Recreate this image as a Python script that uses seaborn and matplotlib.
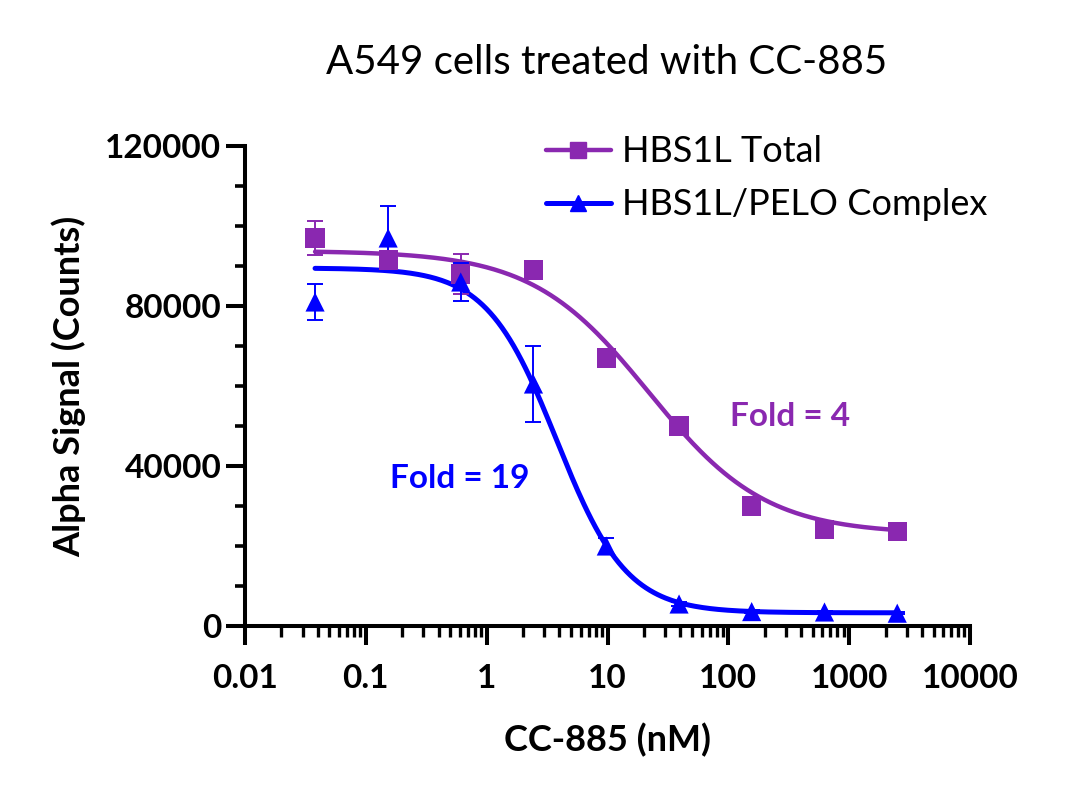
import numpy as np
import pandas as pd
import matplotlib
matplotlib.use("Agg")
import matplotlib.pyplot as plt
from matplotlib.ticker import LogLocator, NullFormatter, FixedLocator
import seaborn as sns

# concentrations (nM), 4-fold dilution series
conc = [0.038, 0.153, 0.61, 2.44, 9.77, 39.1, 156, 625, 2500]

total_mean = [97000, 91500, 88000, 89000, 67000, 50000, 30000, 24200, 23700]
total_err = [4200, 1200, 5000, 600, 800, 600, 500, 400, 300]

complex_mean = [81000, 97000, 86000, 60500, 20000, 5500, 3600, 3500, 3200]
complex_err = [4500, 8000, 4800, 9500, 2000, 600, 300, 300, 200]

# 4PL fit parameters: bottom, top, ec50, hill
total_fit = (23000, 93800, 22.0, 0.9)
complex_fit = (3300, 89500, 3.8, 1.5)

x_ticks = [0.01, 0.1, 1, 10, 100, 1000, 10000]
x_labels = ['0.01', '0.1', '1', '10', '100', '1000', '10000']
y_ticks = [0, 40000, 80000, 120000]
y_labels = ['0', '40000', '80000', '120000']

purple = "#8a28b0"
blue = "#0000ff"

sns.set_theme(style="ticks")
plt.rcParams['font.family'] = ['Lato', 'DejaVu Sans']
plt.rcParams['text.color'] = 'black'
plt.rcParams['xtick.color'] = 'black'
plt.rcParams['ytick.color'] = 'black'
plt.rcParams['axes.labelcolor'] = 'black'

fig = plt.figure(figsize=(10.8, 7.95), dpi=100)
ax = fig.add_axes([245/1080, 1 - 626/795, 725/1080, 480/795])


def four_pl(x, p):
    bottom, top, ec50, hill = p
    return bottom + (top - bottom) / (1 + (x / ec50) ** hill)


xfit = np.logspace(np.log10(conc[0]), np.log10(conc[-1]), 300)
total_curve = pd.DataFrame({'x': xfit, 'y': four_pl(xfit, total_fit)})
complex_curve = pd.DataFrame({'x': xfit, 'y': four_pl(xfit, complex_fit)})

sns.lineplot(data=total_curve, x='x', y='y', color=purple, lw=3.2, ax=ax, legend=False)
sns.lineplot(data=complex_curve, x='x', y='y', color=blue, lw=3.6, ax=ax, legend=False)

ax.errorbar(conc, total_mean, yerr=total_err, fmt='none', ecolor=purple,
            elinewidth=1.4, capsize=6, capthick=1.4, zorder=3)
ax.errorbar(conc, complex_mean, yerr=complex_err, fmt='none', ecolor=blue,
            elinewidth=1.4, capsize=6, capthick=1.4, zorder=3)

pts = pd.DataFrame({'x': conc + conc, 'y': total_mean + complex_mean,
                    's': ['HBS1L Total'] * 9 + ['HBS1L/PELO Complex'] * 9})
sns.scatterplot(data=pts, x='x', y='y', hue='s', style='s',
                markers={'HBS1L Total': 's', 'HBS1L/PELO Complex': '^'},
                palette={'HBS1L Total': purple, 'HBS1L/PELO Complex': blue},
                s=190, edgecolor='none', linewidth=0, ax=ax, zorder=4, legend=False)

ax.set_xscale('log')
ax.set_xlim(0.01, 10000)
ax.set_ylim(0, 120000)

ax.xaxis.set_major_locator(FixedLocator(x_ticks))
ax.set_xticklabels(x_labels)
ax.xaxis.set_minor_locator(LogLocator(base=10, subs=np.arange(2, 10), numticks=20))
ax.xaxis.set_minor_formatter(NullFormatter())
ax.yaxis.set_major_locator(FixedLocator(y_ticks))
ax.set_yticklabels(y_labels)
ax.yaxis.set_minor_locator(FixedLocator(np.arange(10000, 120000, 10000)))

for s in ['top', 'right']:
    ax.spines[s].set_visible(False)
for s in ['left', 'bottom']:
    ax.spines[s].set_linewidth(2.9)
    ax.spines[s].set_color('black')

ax.tick_params(axis='both', which='major', length=14, width=2.9, color='black',
               labelsize=24, pad=3, labelcolor='black')
ax.tick_params(axis='x', which='major', pad=13)
ax.tick_params(axis='y', which='minor', length=7, width=2.6, color='black')
ax.tick_params(axis='x', which='minor', length=8, width=2.4, color='black')
for lab in ax.get_xticklabels() + ax.get_yticklabels():
    lab.set_fontweight('bold')

ax.set_xlabel('CC-885 (nM)', fontsize=26, fontweight='bold', labelpad=22)
ax.set_ylabel('Alpha Signal (Counts)', fontsize=26, fontweight='bold', labelpad=14)
fig.text(607/1080, 1 - 62/795, 'A549 cells treated with CC-885', fontsize=29,
         ha='center', va='center')

ax.text(0.6, 36750, 'Fold = 19', color=blue, fontsize=24, fontweight='bold',
        ha='center', va='center')
ax.text(324, 52500, 'Fold = 4', color=purple, fontsize=24, fontweight='bold',
        ha='center', va='center')

h1, = ax.plot([], [], color=purple, lw=3.2, marker='s', ms=11)
h2, = ax.plot([], [], color=blue, lw=3.6, marker='^', ms=12)
ax.legend([h1, h2], ['HBS1L Total', 'HBS1L/PELO Complex'], loc='upper left',
          bbox_to_anchor=(0.37, 1.09), frameon=False, fontsize=26,
          handlelength=1.8, handletextpad=0.3, labelspacing=0.55)

fig.savefig('out.png', dpi=100)
